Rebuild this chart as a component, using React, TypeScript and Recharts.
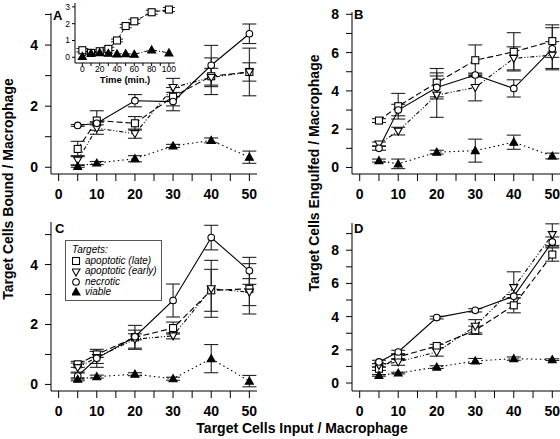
import React from "react";
import { ComposedChart, Line, XAxis, YAxis, ErrorBar, Legend } from "recharts";

// target cells input per macrophage
const inputs = [5, 10, 20, 30, 40, 50];

// A: bound
const boundLate = [0.6, 1.53, 1.44, 2.31, 2.98, 3.12];
const boundLateErr = [0.25, 0.32, 0.22, 0.3, 0.6, 0.78];
const boundEarly = [0.23, 1.28, 1.1, 2.61, 2.94, 3.12];
const boundEarlyErr = [0.15, 0.2, 0.15, 0.3, 0.3, 0.3];
const boundNecrotic = [1.37, 1.44, 2.18, 2.15, 3.34, 4.37];
const boundNecroticErr = [0.03, 0.05, 0.2, 0.3, 0.65, 0.32];
const boundViable = [0.03, 0.14, 0.28, 0.7, 0.88, 0.33];
const boundViableErr = [0.03, 0.05, 0.1, 0.05, 0.08, 0.2];

// B: engulfed
const engulfLate = [2.45, 3.2, 4.43, 5.6, 6.04, 6.6];
const engulfLateErr = [0.1, 0.67, 0.74, 0.8, 1.0, 0.85];
const engulfEarly = [1.23, 1.9, 3.78, 4.18, 5.7, 5.87];
const engulfEarlyErr = [0.1, 0.2, 1.16, 0.7, 0.6, 0.7];
const engulfNecrotic = [1.0, 3.0, 4.18, 4.83, 4.13, 6.2];
const engulfNecroticErr = [0.1, 0.3, 0.6, 0.1, 0.45, 1.1];
const engulfViable = [0.36, 0.19, 0.8, 0.88, 1.32, 0.6];
const engulfViableErr = [0.08, 0.25, 0.1, 0.6, 0.37, 0.15];

// C: bound (second condition)
const bound2Late = [0.67, 1.0, 1.57, 1.88, 3.14, 3.19];
const bound2LateErr = [0.1, 0.1, 0.4, 0.2, 0.7, 0.84];
const bound2Early = [0.56, 0.9, 1.51, 1.62, 3.19, 3.08];
const bound2EarlyErr = [0.15, 0.2, 0.3, 0.1, 0.95, 0.45];
const bound2Necrotic = [0.28, 0.87, 1.59, 2.8, 4.9, 3.79];
const bound2NecroticErr = [0.1, 0.3, 0.1, 0.55, 0.41, 0.45];
const bound2Viable = [0.17, 0.26, 0.34, 0.19, 0.86, 0.11];
const bound2ViableErr = [0.05, 0.05, 0.05, 0.05, 0.47, 0.19];

// D: engulfed (second condition)
const engulf2Late = [0.86, 1.57, 2.23, 3.18, 4.68, 7.74];
const engulf2LateErr = [0.1, 0.15, 0.1, 0.25, 0.45, 0.4];
const engulf2Early = [1.07, 1.27, 1.87, 3.42, 5.75, 8.94];
const engulf2EarlyErr = [0.1, 0.2, 0.25, 0.4, 0.95, 0.65];
const engulf2Necrotic = [1.27, 1.87, 3.94, 4.38, 5.23, 8.5];
const engulf2NecroticErr = [0.1, 0.1, 0.08, 0.1, 0.1, 0.3];
const engulf2Viable = [0.46, 0.6, 0.96, 1.33, 1.47, 1.41];
const engulf2ViableErr = [0.05, 0.05, 0.08, 0.15, 0.1, 0.05];

// inset: time course
const times = [0, 10, 20, 30, 40, 50, 60, 80, 100];
const timeLate = [0.42, 0.26, 0.36, 0.5, 1.0, 1.86, 2.14, 2.68, 2.84];
const timeLateErr = [0.1, 0.08, 0.08, 0.1, 0.08, 0.1, 0.12, 0.12, 0.12];
const timeViable = [0.05, 0.24, 0.28, 0.24, 0.2, 0.22, 0.18, 0.44, 0.26];

const FONT = 'Arial, "Liberation Sans", Helvetica, sans-serif';
const tickStyle = { fontSize: 14, fontWeight: "bold", fill: "#000", fontFamily: FONT };

const SERIES = [
  { key: "late", name: "apoptotic (late)", shape: "square", dash: "6 3" },
  { key: "early", name: "apoptotic (early)", shape: "tri", dash: "4 2 1 2 1 2" },
  { key: "necrotic", name: "necrotic", shape: "circle", dash: undefined },
  { key: "viable", name: "viable", shape: "filled", dash: "1.5 3" },
];

const Marker = ({ shape, cx, cy }: { shape: string; cx: number; cy: number }) => {
  if (cx == null || cy == null) return null;
  const common = { stroke: "#000", strokeWidth: 1.1 };
  if (shape === "square")
    return <rect x={cx - 3.5} y={cy - 3.5} width={7} height={7} fill="#fff" {...common} />;
  if (shape === "circle") return <circle cx={cx} cy={cy} r={3.3} fill="#fff" {...common} />;
  if (shape === "tri")
    return (
      <polygon
        points={`${cx - 4},${cy - 3} ${cx + 4},${cy - 3} ${cx},${cy + 4}`}
        fill="#fff"
        {...common}
      />
    );
  return (
    <polygon points={`${cx - 4},${cy + 3} ${cx + 4},${cy + 3} ${cx},${cy - 4}`} fill="#000" {...common} />
  );
};

const makeDot = (shape: string) => (props: any) =>
  <Marker key={`${shape}-${props.index}`} shape={shape} cx={props.cx} cy={props.cy} />;

const buildRows = (vals: Record<string, number[]>, errs: Record<string, number[]>) =>
  inputs.map((x, i) => {
    const row: any = { x };
    Object.keys(vals).forEach(k => {
      row[k] = vals[k][i];
      row[`${k}Err`] = errs[k][i];
    });
    return row;
  });

const panelA = buildRows(
  { late: boundLate, early: boundEarly, necrotic: boundNecrotic, viable: boundViable },
  { late: boundLateErr, early: boundEarlyErr, necrotic: boundNecroticErr, viable: boundViableErr }
);
const panelB = buildRows(
  { late: engulfLate, early: engulfEarly, necrotic: engulfNecrotic, viable: engulfViable },
  { late: engulfLateErr, early: engulfEarlyErr, necrotic: engulfNecroticErr, viable: engulfViableErr }
);
const panelC = buildRows(
  { late: bound2Late, early: bound2Early, necrotic: bound2Necrotic, viable: bound2Viable },
  { late: bound2LateErr, early: bound2EarlyErr, necrotic: bound2NecroticErr, viable: bound2ViableErr }
);
const panelD = buildRows(
  { late: engulf2Late, early: engulf2Early, necrotic: engulf2Necrotic, viable: engulf2Viable },
  { late: engulf2LateErr, early: engulf2EarlyErr, necrotic: engulf2NecroticErr, viable: engulf2ViableErr }
);
const insetData = times.map((t, i) => ({ t, late: timeLate[i], lateErr: timeLateErr[i], viable: timeViable[i] }));

const LegendBox = () => (
  <div
    style={{
      boxSizing: "border-box",
      width: 97,
      height: 61,
      border: "1px solid #555",
      background: "#fff",
      fontFamily: FONT,
      fontStyle: "italic",
      fontSize: 10,
      color: "#000",
      paddingLeft: 6,
      paddingTop: 2,
      whiteSpace: "nowrap",
      overflow: "hidden",
    }}
  >
    <div style={{ height: 13, lineHeight: "13px" }}>Targets:</div>
    {SERIES.map(s => (
      <div key={s.key} style={{ height: 10.4, lineHeight: "10.4px", display: "flex", alignItems: "center" }}>
        <svg width={12} height={10} style={{ marginRight: 1, flex: "none" }}>
          <Marker shape={s.shape} cx={4} cy={5} />
        </svg>
        <span>{s.name}</span>
      </div>
    ))}
  </div>
);

interface PanelProps {
  data: any[];
  left: number;
  top: number;
  width: number;
  height: number;
  marginTop: number;
  marginRight: number;
  yWidth: number;
  yDomain: [number, number];
  yMax: number;
  legend?: boolean;
}

const Panel = ({ data, left, top, width, height, marginTop, marginRight, yWidth, yDomain, yMax, legend }: PanelProps) => {
  const yTicks = Array.from({ length: yMax + 1 }, (_, i) => i);
  return (
    <div style={{ position: "absolute", left, top, width, height }}>
      <ComposedChart width={width} height={height} data={data} margin={{ top: marginTop, right: marginRight, left: 0, bottom: 0 }}>
        <XAxis
          dataKey="x"
          type="number"
          domain={[-2, 52]}
          allowDataOverflow
          ticks={[0, 5, 10, 15, 20, 25, 30, 35, 40, 45, 50]}
          tickFormatter={(v: number) => (v % 10 === 0 ? `${v}` : "")}
          tick={tickStyle}
          tickSize={7}
          tickMargin={8}
          height={30}
          stroke="#000"
          interval={0}
        />
        <YAxis
          type="number"
          domain={yDomain}
          allowDataOverflow
          ticks={yTicks}
          tickFormatter={(v: number) => (v % 2 === 0 ? `${v}` : "")}
          tick={tickStyle}
          tickSize={6}
          tickMargin={7}
          width={yWidth}
          stroke="#000"
          interval={0}
        />
        {legend && (
          <Legend
            layout="vertical"
            align="center"
            verticalAlign="middle"
            content={() => <LegendBox />}
            wrapperStyle={{ left: 65, top: 40, width: 97, height: 61 }}
          />
        )}
        {SERIES.map(s => (
          <Line
            key={s.key}
            dataKey={s.key}
            name={s.name}
            type="linear"
            stroke="#000"
            strokeWidth={1.1}
            strokeDasharray={s.dash}
            dot={makeDot(s.shape)}
            activeDot={false}
            isAnimationActive={false}
          >
            <ErrorBar dataKey={`${s.key}Err`} width={7} stroke="#222" strokeWidth={1.1} direction="y" />
          </Line>
        ))}
      </ComposedChart>
    </div>
  );
};

const insetTick = { fontSize: 8.5, fill: "#000", fontFamily: FONT };

const Inset = () => (
  <div style={{ position: "absolute", left: 55, top: 0, width: 125, height: 86 }}>
    <ComposedChart width={125} height={86} data={insetData} margin={{ top: 3, right: 5, left: 0, bottom: 0 }}>
      <XAxis
        dataKey="t"
        type="number"
        domain={[-8.5, 107]}
        allowDataOverflow
        ticks={[0, 10, 20, 30, 40, 50, 60, 70, 80, 90, 100]}
        tickFormatter={(v: number) => (v % 20 === 0 ? `${v}` : "")}
        tick={insetTick}
        tickSize={3}
        tickMargin={0}
        height={23}
        stroke="#000"
        interval={0}
        label={{
          value: "Time (min.)",
          position: "insideBottom",
          offset: 3,
          style: { fontSize: 9.5, fontWeight: "bold", fill: "#000", fontFamily: FONT },
        }}
      />
      <XAxis xAxisId="top" orientation="top" type="number" domain={[-8.5, 107]} tick={false} tickLine={false} height={0} stroke="#000" />
      <YAxis
        type="number"
        domain={[-0.34, 3.23]}
        allowDataOverflow
        ticks={[0, 1, 2, 3]}
        tick={insetTick}
        tickSize={3}
        tickMargin={2}
        width={20}
        stroke="#000"
        interval={0}
      />
      <YAxis yAxisId="right" orientation="right" type="number" domain={[-0.34, 3.23]} tick={false} tickLine={false} width={0} stroke="#000" />
      <Line
        dataKey="late"
        type="linear"
        stroke="#000"
        strokeWidth={1}
        strokeDasharray="4 2"
        dot={makeDot("square")}
        activeDot={false}
        isAnimationActive={false}
      >
        <ErrorBar dataKey="lateErr" width={6} stroke="#222" strokeWidth={1} direction="y" />
      </Line>
      <Line
        dataKey="viable"
        type="linear"
        stroke="#000"
        strokeWidth={1}
        strokeDasharray="4 2 1 2"
        dot={makeDot("filled")}
        activeDot={false}
        isAnimationActive={false}
      />
    </ComposedChart>
  </div>
);

const letter = (text: string, left: number, top: number) => (
  <div style={{ position: "absolute", left, top, fontFamily: FONT, fontWeight: "bold", fontSize: 13, lineHeight: 1 }}>
    {text}
  </div>
);

const yTitle = (text: string, cx: number, cy: number) => (
  <div
    style={{
      position: "absolute",
      left: cx,
      top: cy,
      transform: "translate(-50%, -50%) rotate(-90deg)",
      whiteSpace: "nowrap",
      fontFamily: FONT,
      fontWeight: "bold",
      fontSize: 14,
      lineHeight: 1,
    }}
  >
    {text}
  </div>
);

export default function App() {
  return (
    <div style={{ position: "absolute", left: 0, top: 0, width: 560, height: 439, background: "#fff", overflow: "hidden" }}>
      <Panel data={panelA} left={0} top={0} width={262} height={204} marginTop={13} marginRight={5} yWidth={51} yDomain={[-0.22, 5.05]} yMax={5} />
      <Panel data={panelB} left={300} top={0} width={260} height={204} marginTop={12} marginRight={0} yWidth={52} yDomain={[-0.34, 8.12]} yMax={8} />
      <Panel data={panelC} left={0} top={200} width={262} height={221} marginTop={22} marginRight={5} yWidth={51} yDomain={[-0.22, 5.42]} yMax={5} legend />
      <Panel data={panelD} left={300} top={200} width={260} height={221} marginTop={23} marginRight={0} yWidth={52} yDomain={[-0.48, 9.64]} yMax={9} />
      <Inset />
      {letter("A", 53, 8.5)}
      {letter("B", 354, 7.5)}
      {letter("C", 55, 221.5)}
      {letter("D", 354, 221.5)}
      {yTitle("Target Cells Bound / Macrophage", 8.3, 189)}
      {yTitle("Target Cells Engulfed / Macrophage", 313.5, 172.5)}
      <div
        style={{
          position: "absolute",
          left: 302,
          top: 421.4,
          transform: "translateX(-50%)",
          whiteSpace: "nowrap",
          fontFamily: FONT,
          fontWeight: "bold",
          fontSize: 14,
          lineHeight: 1,
        }}
      >
        Target Cells Input / Macrophage
      </div>
    </div>
  );
}
